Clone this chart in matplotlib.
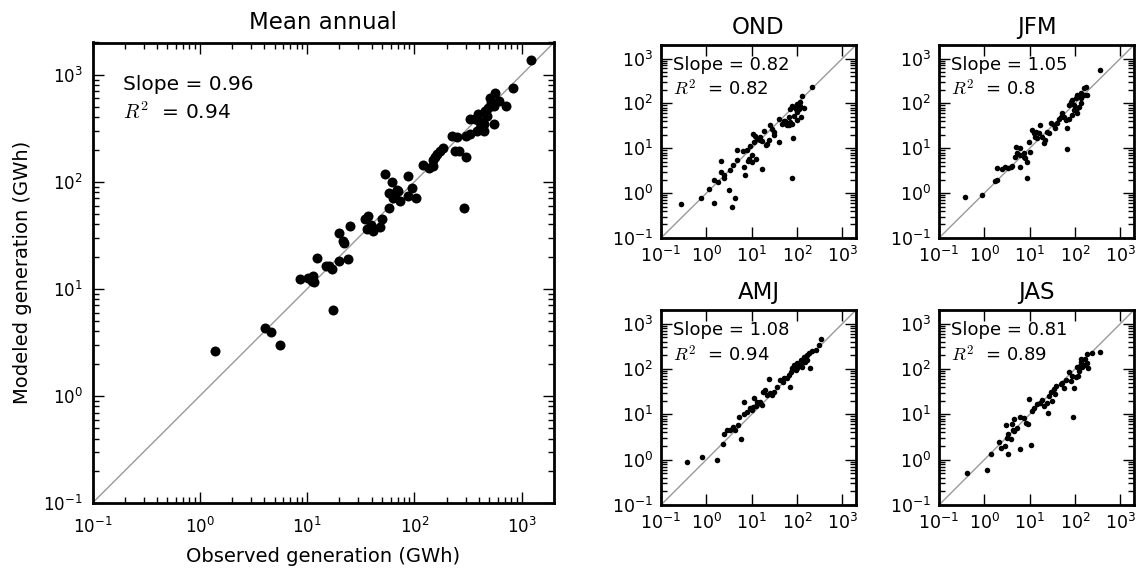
import numpy as np
import matplotlib
matplotlib.use("Agg")
import matplotlib.pyplot as plt

plt.rcParams['font.family'] = ['DejaVu Sans']
plt.rcParams['mathtext.fontset'] = 'cm'

# ---------------- data (GWh) ----------------
annual_obs = [1208, 827, 717, 566, 508, 608, 546, 490, 456, 395, 331, 368, 401, 441, 546,
              382, 441, 301, 226, 248, 240, 261, 301, 186, 174, 161, 150, 155, 121, 137,
              150, 86.7, 53.2, 62.3, 95.8, 68.4, 58.4, 66, 71, 63.7, 73.5, 88, 103, 58.4,
              289, 36.7, 34.7, 49.6, 39.4, 36.2, 41.4, 47.8, 25.1, 19.9, 21.8, 22.0, 12.5,
              15, 16, 17.2, 19.9, 24.2, 8.6, 10.3, 11.4, 11, 11.6, 17.5, 4.04, 4.56, 5.62,
              1.39, 331, 410, 473, 519]
annual_mod = [1365, 748, 515, 677, 608, 566, 508, 490, 456, 434, 382, 382, 368, 343, 348,
              297, 297, 267, 267, 261, 193, 193, 171, 208, 193, 180, 161, 171, 143, 135,
              139, 113, 117, 100, 86.7, 83.6, 78.9, 76.2, 81.8, 71, 66, 73.5, 70.4, 57.2,
              56.8, 47.8, 45.2, 44.5, 39.1, 36.4, 34.4, 38, 38.6, 33, 27.9, 26.8, 19.5,
              16.3, 16.3, 15.2, 18.2, 18.9, 12.3, 12.7, 13.2, 11.8, 11.7, 6.35, 4.34, 3.98,
              2.97, 2.65, 277, 319, 410, 546]

ond_obs = [0.28, 0.77, 1.16, 1.49, 1.49, 1.8, 2.13, 2.13, 2.48, 2.4, 3.2, 3.37, 3.67, 4.28,
           3.86, 4.73, 4.73, 6.4, 6.65, 7.2, 8.3, 8.9, 10.2, 9.3, 11.1, 10.7, 12, 13.1, 15,
           16.9, 17.2, 12.7, 19, 21.9, 21.0, 25.9, 28.2, 30.7, 39.6, 39.6, 47, 51, 56.6,
           60.6, 66, 71.8, 78, 88, 101, 110, 119, 130, 142, 124, 82, 75.6, 219, 85, 98, 78,
           55, 101, 115, 93, 66, 15.6, 7.8, 10.2, 30.7, 24.2, 101, 71.8]
ond_mod = [0.58, 0.79, 1.24, 0.61, 1.95, 1.8, 5.15, 3.0, 2.6, 2.13, 1.16, 3.26, 0.5, 0.76,
           4.2, 5.42, 9.2, 8.6, 3.86, 2.6, 5.15, 5.9, 7.0, 11.3, 13.8, 21, 18.7, 16.4, 17.8,
           14.3, 3.4, 5.9, 23.8, 12.7, 11.8, 32.3, 26.4, 23, 13.8, 43.9, 35.2, 39.6, 35.2,
           32.3, 49.4, 75.6, 89.5, 82, 97.5, 75.6, 89.5, 149, 78, 49.4, 17, 2.13, 236, 52.5,
           41.7, 35, 41, 63.7, 106, 75.6, 32.3, 15, 9.3, 5.0, 19.4, 15, 82, 38.6]

jfm_obs = [0.37, 0.87, 1.73, 1.88, 1.94, 2.43, 2.88, 3.4, 4.05, 3.9, 6.2, 4.8, 5.05, 5.2,
           6.2, 6.0, 7.6, 8.7, 8.7, 10, 9.5, 11.3, 12.3, 13.4, 14.6, 15.8, 16.7, 18.8, 20.5,
           22.3, 24.2, 28.8, 34, 40, 48, 52, 44, 62, 65, 67.6, 73.6, 80, 87, 103, 112, 134,
           158, 172, 158, 134, 123, 95, 87, 73.6, 112, 188, 353, 57, 37, 26.5, 14, 95, 134,
           108, 7.4, 8.0]
jfm_mod = [0.83, 0.9, 1.88, 1.98, 3.7, 3.5, 3.9, 3.7, 4.1, 3.8, 3.9, 6.5, 10.9, 7.7, 10,
           6.9, 6.5, 5.05, 2.15, 8.4, 14, 25.5, 21.5, 18.2, 16.7, 21.5, 33, 18.2, 12.9, 15.3,
           23.4, 36, 33, 36, 50.6, 60, 46, 42.5, 28.8, 9.7, 92, 109, 118, 129, 153, 167, 215,
           234, 153, 100, 84, 71, 55, 46, 60, 153, 550, 50.6, 27.8, 21.5, 23.4, 92, 129, 77,
           7.7, 6.0]

amj_obs = [0.37, 0.8, 1.71, 2.32, 2.48, 2.84, 3.37, 3.86, 4.35, 4.9, 5.15, 5.8, 6.65, 6.9,
           7.9, 9.4, 10.7, 11.4, 12.7, 14.3, 15.5, 16.9, 17.8, 20.1, 21.8, 23.8, 25.9, 28,
           30.5, 36.6, 43, 51.5, 66, 74, 69, 78, 85, 100, 120, 143, 163, 183, 193, 131, 110,
           148, 218, 259, 305, 343, 93, 59, 48, 13.1, 10.2, 100, 120, 167]
amj_mod = [0.88, 1.17, 0.96, 2.17, 3.75, 4.45, 4.6, 5.3, 4.6, 5.75, 8.8, 2.8, 10.2, 19,
           11.3, 13.5, 14.7, 22.5, 15, 17.5, 19, 16, 31.6, 34, 26.6, 59.4, 30, 26.6, 31.6,
           40.7, 57.5, 62, 73.5, 88, 40.7, 105, 124, 134, 159, 183, 207, 225, 105, 113, 124,
           146, 244, 265, 344, 460, 96, 62, 52, 19, 12.4, 105, 124, 159]

jas_obs = [0.42, 1.13, 1.41, 2.15, 2.3, 2.88, 3.03, 3.25, 3.14, 3.4, 3.85, 4.26, 4.4, 4.55,
           6.0, 6.2, 7.4, 8.4, 9.0, 9.5, 10.7, 11.3, 12.7, 14.6, 16.7, 18.8, 20.5, 25, 26.5,
           28.8, 31.4, 34.2, 39, 48, 57, 62, 73.6, 87, 95, 91, 112, 118, 128, 134, 139, 145,
           158, 166, 182, 188, 195, 242, 359, 123, 103, 80, 52, 24, 37, 4.05, 5.2]
jas_mod = [0.51, 0.6, 1.34, 2.47, 1.82, 1.98, 5.8, 1.34, 3.0, 3.6, 2.8, 4.6, 7.7, 4.25,
           1.76, 8.7, 8.4, 6.5, 6.0, 21.5, 2.08, 11.9, 13.6, 16.7, 18.2, 20.5, 15.3, 10.9,
           25.5, 30.3, 19.8, 35.9, 42.5, 46, 37.7, 57, 84, 71, 39, 8.9, 109, 71, 118, 167,
           141, 109, 125, 167, 134, 215, 105, 223, 233, 92, 65, 55, 50, 18, 28, 6.0, 5.0]

titles = ["Mean annual", "OND", "JFM", "AMJ", "JAS"]
slopes = ["0.96", "0.82", "1.05", "1.08", "0.81"]
r2s = ["0.94", "0.82", "0.8", "0.94", "0.89"]
obs_sets = [annual_obs, ond_obs, jfm_obs, amj_obs, jas_obs]
mod_sets = [annual_mod, ond_mod, jfm_mod, amj_mod, jas_mod]
tick_vals = [0.1, 1, 10, 100, 1000]

W, H = 1139, 572
fig = plt.figure(figsize=(W / 100, H / 100), dpi=100)

def px_axes(l, t, r, b):
    return fig.add_axes([l / W, 1 - b / H, (r - l) / W, (b - t) / H])

rects = [(92.5, 42.5, 554, 503), (661, 45, 856, 238), (939, 45, 1134, 238),
         (661, 310, 856, 505), (939, 310, 1134, 505)]

lim = (0.1, 2000)
for i in range(5):
    ax = px_axes(*rects[i])
    big = i == 0
    ax.plot(lim, lim, color='#999999', lw=1.0, zorder=1)
    ax.plot(obs_sets[i], mod_sets[i], 'o', color='black', ms=7.2 if big else 4.0,
            mec='black', mew=0, zorder=2)
    ax.set_xscale('log')
    ax.set_yscale('log')
    ax.set_xlim(lim)
    ax.set_ylim(lim)
    ax.set_xticks(tick_vals)
    ax.set_yticks(tick_vals)
    for s in ax.spines.values():
        s.set_linewidth(2.0)
    ax.tick_params(which='both', direction='in', top=True, right=True,
                   labelsize=12 if big else 12.5)
    ax.tick_params(axis='x', pad=10 if big else 6)
    ax.tick_params(axis='y', pad=7 if big else 6)
    ax.tick_params(which='major', length=8, width=1)
    ax.tick_params(which='minor', length=4, width=1)
    ax.set_title(titles[i], fontsize=16.5, pad=10 if big else 8)
    fs = 14.5 if big else 13
    x0 = 0.066 if big else 0.062
    ys = (0.908, 0.848) if big else (0.895, 0.77)
    ax.text(x0, ys[0], f"Slope = {slopes[i]}", transform=ax.transAxes,
            fontsize=fs, va='center', ha='left')
    ax.text(x0, ys[1], f"$R^2$  = {r2s[i]}", transform=ax.transAxes,
            fontsize=fs, va='center', ha='left')
    if big:
        ax.set_xlabel("Observed generation (GWh)", fontsize=14, labelpad=7)
        ax.set_ylabel("Modeled generation (GWh)", fontsize=14, labelpad=8)

fig.savefig("out.png", dpi=100)
